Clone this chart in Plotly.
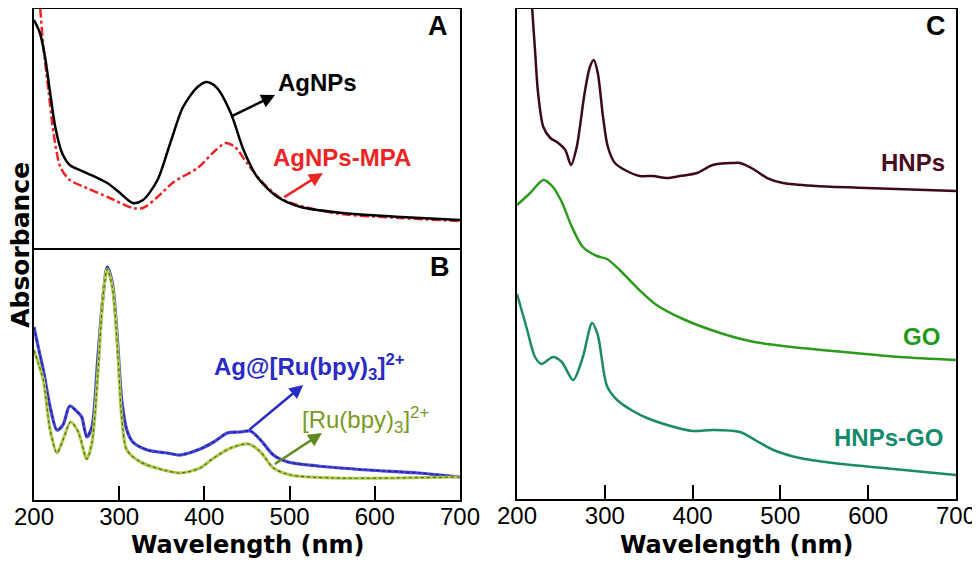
import plotly.graph_objects as go

# Panel A - absorbance in arbitrary units
agnps_wl = [200, 207, 213, 219, 225, 233, 242, 262, 286, 301, 316, 328, 345, 360, 375,
            392, 403, 415, 431, 446, 462, 486, 513, 552, 592, 631, 700]
agnps_abs = [228, 215, 191, 155, 121, 95, 83, 75, 65, 55, 45, 48, 68, 105, 141,
             161, 166, 160, 135, 98, 71, 51, 41, 36, 33, 31, 28]

mpa_wl = [203, 207, 211, 217, 223, 231, 242, 262, 289, 316, 328, 345, 364, 392, 411,
          425, 436, 450, 469, 493, 552, 630, 700]
mpa_abs = [275, 243, 201, 158, 115, 81, 68, 60, 50, 40, 40, 51, 66, 80, 96,
           105, 101, 85, 65, 48, 35, 30, 27]

# Panel B
ag_ru_wl = [200, 205, 211, 219, 227, 234, 242, 251, 256, 262, 268, 275, 281, 286, 292,
            298, 303, 309, 316, 333, 356, 372, 395, 411, 427, 442, 454, 466, 481, 498,
            533, 592, 651, 700]
ag_ru_abs = [173, 153, 130, 93, 70, 75, 94, 88, 83, 63, 73, 143, 203, 233, 217,
             160, 100, 70, 58, 50, 47, 45, 51, 58, 67, 68, 69, 60, 45, 38,
             34, 30, 27, 23]

ru_wl = [200, 205, 211, 219, 227, 234, 243, 252, 262, 268, 275, 281, 286, 292, 298,
         303, 309, 325, 352, 372, 395, 411, 431, 452, 466, 481, 501, 552, 700]
ru_abs = [150, 137, 120, 70, 47, 60, 78, 68, 41, 57, 127, 203, 231, 213, 153,
          83, 50, 38, 30, 27, 32, 42, 52, 56, 48, 32, 25, 22, 23]

# Panel C
hnps_wl = [214, 217, 220.5, 224, 230, 238, 245.5, 255, 261.5, 268, 277, 283, 287.5, 292,
           298, 303.5, 311.5, 325, 340, 355, 371, 385.5, 405, 423, 446, 454, 469, 485,
           503, 541, 598, 700]
hnps_abs = [540, 494, 449, 406, 372, 361, 357, 349, 334, 352, 406, 432, 439, 426,
            382, 352, 336, 328, 323, 323, 321, 323, 326, 334, 336, 336, 330, 321,
            316, 313, 311, 308]

go_wl = [200, 215, 230, 240, 251, 262.5, 275, 291, 302.5, 317, 337, 359, 389, 428,
         465, 503, 560, 636, 700]
go_abs = [294, 306, 319, 313, 297, 272, 252, 243, 240, 229, 211, 194, 180, 167,
          158, 153, 148, 142, 139]

hnps_go_wl = [200, 211, 220.5, 228, 241, 251, 264, 275, 285.5, 292, 302.5, 314, 332, 348,
              371, 400, 423, 454, 473, 492, 522, 560, 617, 700]
hnps_go_abs = [205, 171, 142, 135, 142, 137, 119, 142, 176, 164, 113, 99, 88, 81,
               74, 68, 69, 67, 58, 49, 41, 36, 31, 24]

wl_ticks = [200, 300, 400, 500, 600, 700]

FONT = "Liberation Sans, Arial, sans-serif"
TITLE_FONT = "DejaVu Sans, sans-serif"

fig = go.Figure()


def add_line(x, y, color, axis, width=2.5, dash="solid"):
    fig.add_trace(go.Scatter(
        x=x, y=y, mode="lines", xaxis="x" + axis, yaxis="y" + axis,
        line=dict(color=color, width=width, dash=dash, shape="spline", smoothing=0.8),
        showlegend=False, hoverinfo="skip"))


add_line(mpa_wl, mpa_abs, "#ee2424", "", width=2.5, dash="dashdot")
add_line(agnps_wl, agnps_abs, "black", "", width=2.5)
# panel B curves: light outer line with a dark dotted core, as in the scan
add_line(ag_ru_wl, ag_ru_abs, "#4646d8", "2", width=3.2)
add_line(ag_ru_wl, ag_ru_abs, "#1c1c86", "2", width=1.2, dash="dot")
add_line(ru_wl, ru_abs, "#b0cc4e", "2", width=3.2)
add_line(ru_wl, ru_abs, "#56661a", "2", width=1.2, dash="dot")
add_line(hnps_wl, hnps_abs, "#3c0a16", "3", width=2.5)
add_line(go_wl, go_abs, "#2c9a1c", "3", width=2.5)
add_line(hnps_go_wl, hnps_go_abs, "#1a8a6a", "3", width=2.5)

frame = dict(showline=True, linewidth=2, linecolor="black", mirror=True,
             showgrid=False, zeroline=False, automargin=False)
xticks = dict(range=[200, 700], tickvals=wl_ticks, ticks="inside", ticklen=14,
              tickwidth=2, tickcolor="black", ticklabelstandoff=-6,
              tickfont=dict(family=FONT, size=24, color="black"))
noy = dict(showticklabels=False, ticks="")

# the page adds an 8px body margin, so the domains sit 8px up/left
fig.update_layout(
    width=980, height=565,
    margin=dict(l=0, r=0, t=0, b=0, autoexpand=False),
    paper_bgcolor="white", plot_bgcolor="white",
    xaxis=dict(**frame, domain=[0.0265, 0.4612], range=[200, 700],
               showticklabels=False, ticks=""),
    yaxis=dict(**frame, **noy, domain=[0.5752, 0.9982], range=[0, 239]),
    xaxis2=dict(**{**frame, "mirror": False}, **xticks, domain=[0.0265, 0.4612],
                anchor="y2"),
    yaxis2=dict(**frame, **noy, domain=[0.1292, 0.5752], range=[0, 252], anchor="x2"),
    xaxis3=dict(**frame, **xticks, domain=[0.5194, 0.9673], anchor="y3"),
    yaxis3=dict(**frame, **noy, domain=[0.1310, 0.9982], range=[0, 490], anchor="x3"),
)


def label(text, x, y, axis, color, size=24, bold=True, xanchor="center"):
    t = "<b>" + text + "</b>" if bold else text
    fig.add_annotation(text=t, x=x, y=y, xref="x" + axis, yref="y" + axis,
                       xanchor=xanchor, yanchor="middle", showarrow=False,
                       font=dict(family=FONT, size=size, color=color))


def arrow(x0, y0, x1, y1, axis, color):
    fig.add_annotation(text="", x=x1, y=y1, ax=x0, ay=y0,
                       xref="x" + axis, yref="y" + axis,
                       axref="x" + axis, ayref="y" + axis,
                       showarrow=True, arrowhead=2, arrowsize=1.1,
                       arrowwidth=2.5, arrowcolor=color)


# panel letters
label("A", 674, 222, "", "black", size=27)
label("B", 676, 233, "2", "black", size=27)
label("C", 677, 473, "3", "black", size=27)

# panel A labels
label("AgNPs", 533, 166, "", "black")
arrow(430, 131, 483, 153, "", "black")
label("AgNPs-MPA", 561, 91, "", "#ee2424")
arrow(492, 50, 539, 75, "", "#ee2424")

# panel B labels
label("Ag@[Ru(bpy)<sub>3</sub>]<sup>2+</sup>", 409, 133, "2", "#2a2ac4", xanchor="left")
arrow(451, 69, 516, 115, "2", "#2a2ac4")
label("[Ru(bpy)<sub>3</sub>]<sup>2+</sup>", 512, 80, "2", "#7a9a1e", bold=False, xanchor="left")
arrow(481, 35, 538, 67, "2", "#5e8a1e")

# panel C labels
label("HNPs", 690, 337, "3", "#4a0c1c", xanchor="right")
label("GO", 684, 162, "3", "#239a1a", xanchor="right")
label("HNPs-GO", 687, 61, "3", "#138a6a", xanchor="right")

# axis titles
for xc in [0.2439, 0.7434]:
    fig.add_annotation(text="<b>Wavelength (nm)</b>", x=xc, y=0.0496,
                       xref="paper", yref="paper", showarrow=False,
                       xanchor="center", yanchor="middle",
                       font=dict(family=TITLE_FONT, size=24, color="black"))
fig.add_annotation(text="<b>Absorbance</b>", x=0.0128, y=0.580, xref="paper",
                   yref="paper", showarrow=False, textangle=-90,
                   xanchor="center", yanchor="middle",
                   font=dict(family=TITLE_FONT, size=25, color="black"))

fig.write_html("out.html")
